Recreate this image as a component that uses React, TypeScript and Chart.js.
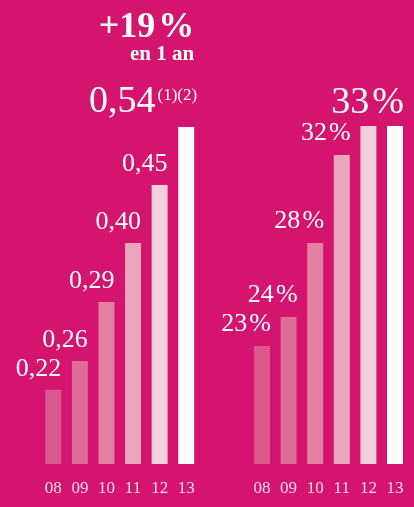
import React, { useEffect, useRef } from "react";
import { Chart, registerables } from "chart.js";
Chart.register(...registerables);

const BG = "#D5146F";
const SERIF = "'Liberation Serif', 'DejaVu Serif', serif";

const years = ["08", "09", "10", "11", "12", "13"];
const barColors = ["#DB5A8E", "#DF6C97", "#E37F9F", "#EBA6BE", "#F3D0DC", "#FFFFFF"];

// Left chart: value labels and bar heights (as drawn, % of tallest bar)
const epsValues = [0.22, 0.26, 0.29, 0.4, 0.45, 0.54];
const epsBarHeights = [22, 30.6, 48.1, 65.6, 82.8, 100];
const epsNote = "(1)(2)";
const growthLabel = "+19\u200A%";
const growthSub = "en 1 an";

// Right chart: ratio labels and bar heights
const ratioValues = [23, 24, 28, 32, 33, 33];
const ratioShown = [true, true, true, true, false, true];
const ratioBarHeights = [34.9, 43.5, 65.4, 91.4, 100, 100];

const fmtEps = (v: number) => v.toFixed(2).replace(".", ",");
const fmtPct = (v: number) => `${v}\u200A%`;

function buildChart(
  canvas: HTMLCanvasElement,
  heights: number[],
  padding: { top: number; left: number; right: number },
  draw: (chart: any) => void
) {
  return new Chart(canvas, {
    type: "bar",
    data: {
      labels: years,
      datasets: [
        {
          data: heights,
          backgroundColor: barColors,
          borderWidth: 0,
          barPercentage: 0.6,
          categoryPercentage: 1,
        },
      ],
    },
    options: {
      animation: false,
      responsive: true,
      maintainAspectRatio: false,
      layout: { padding: { top: padding.top, left: padding.left, right: padding.right, bottom: 0 } },
      plugins: { legend: { display: false }, tooltip: { enabled: false } },
      scales: {
        y: { display: false, min: 0, max: 100 },
        x: {
          grid: { display: false, drawTicks: false },
          border: { display: false },
          ticks: {
            color: "#F7DCE8",
            font: { family: SERIF, size: 17 },
            padding: 14,
            maxRotation: 0,
          },
          afterFit: (scale: any) => {
            scale.height = 43;
            scale.paddingLeft = 0;
            scale.paddingRight = 0;
          },
        },
      },
    },
    plugins: [
      {
        id: "labels",
        afterDatasetsDraw: (chart: any) => draw(chart),
      },
    ],
  });
}

function drawLeft(chart: any) {
  const ctx = chart.ctx;
  const bars = chart.getDatasetMeta(0).data;
  ctx.save();
  ctx.fillStyle = "#FFFFFF";
  ctx.textBaseline = "alphabetic";
  bars.forEach((bar: any, i: number) => {
    const right = bar.x + bar.width / 2;
    if (i < bars.length - 1) {
      ctx.font = `26px ${SERIF}`;
      ctx.textAlign = "right";
      ctx.fillText(fmtEps(epsValues[i]), right, bar.y - 14);
    } else {
      ctx.font = `17px ${SERIF}`;
      ctx.textAlign = "right";
      const noteW = ctx.measureText(epsNote).width;
      ctx.fillText(epsNote, right + 3, bar.y - 27);
      ctx.font = `38px ${SERIF}`;
      ctx.fillText(fmtEps(epsValues[i]), right + 3 - noteW - 2, bar.y - 15);
      ctx.font = `bold 21px ${SERIF}`;
      ctx.fillText(growthSub, right, bar.y - 67);
      ctx.font = `bold 36px ${SERIF}`;
      ctx.fillText(growthLabel, right, bar.y - 90);
    }
  });
  ctx.restore();
}

function drawRight(chart: any) {
  const ctx = chart.ctx;
  const bars = chart.getDatasetMeta(0).data;
  ctx.save();
  ctx.fillStyle = "#FFFFFF";
  ctx.textBaseline = "alphabetic";
  ctx.textAlign = "right";
  bars.forEach((bar: any, i: number) => {
    if (!ratioShown[i]) return;
    const right = bar.x + bar.width / 2;
    const big = i === bars.length - 1;
    ctx.font = `${big ? 38 : 26}px ${SERIF}`;
    ctx.fillText(fmtPct(ratioValues[i]), right + 1, bar.y - (big ? 13 : 15));
  });
  ctx.restore();
}

export default function App() {
  const leftRef = useRef<HTMLCanvasElement>(null);
  const rightRef = useRef<HTMLCanvasElement>(null);

  useEffect(() => {
    document.body.style.margin = "0";
    const a = buildChart(leftRef.current!, epsBarHeights, { top: 127, left: 40, right: 7.5 }, drawLeft);
    const b = buildChart(rightRef.current!, ratioBarHeights, { top: 126, left: 41.7, right: 5.7 }, drawRight);
    return () => {
      a.destroy();
      b.destroy();
    };
  }, []);

  return (
    <div style={{ width: 414, height: 507, background: BG, display: "flex" }}>
      <div style={{ position: "relative", width: 207, height: 507 }}>
        <canvas ref={leftRef} />
      </div>
      <div style={{ position: "relative", width: 207, height: 507 }}>
        <canvas ref={rightRef} />
      </div>
    </div>
  );
}
